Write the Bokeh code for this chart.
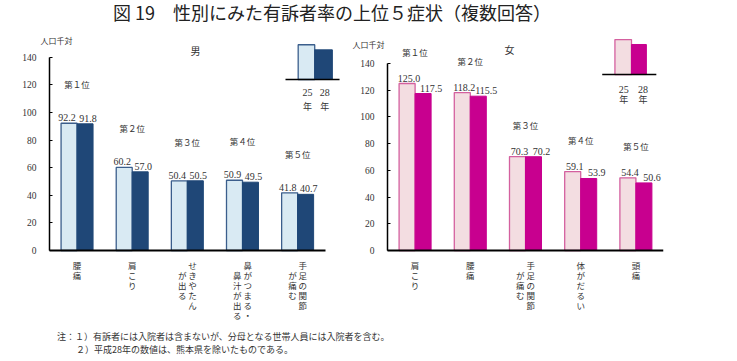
from bokeh.plotting import figure
from bokeh.models import Range1d, FixedTicker, Div, ColumnDataSource
from bokeh.layouts import column, row
from bokeh.embed import file_html
from bokeh.resources import INLINE
from bokeh.core.properties import value

# ---------------- data ----------------
years = ["25", "28"]
year_unit = "年"
ranks = ["第１位", "第２位", "第３位", "第４位", "第５位"]

male_symptoms = [["腰痛"], ["肩こり"], ["せきやたん", "が出る"],
                 ["鼻がつまる・", "鼻汁が出る"], ["手足の関節", "が痛む"]]
male_h25 = [92.2, 60.2, 50.4, 50.9, 41.8]
male_h28 = [91.8, 57.0, 50.5, 49.5, 40.7]

female_symptoms = [["肩こり"], ["腰痛"], ["手足の関節", "が痛む"],
                   ["体がだるい"], ["頭痛"]]
female_h25 = [125.0, 118.2, 70.3, 59.1, 54.4]
female_h28 = [117.5, 115.5, 70.2, 53.9, 50.6]

y_ticks = [0, 20, 40, 60, 80, 100, 120, 140]

TITLE = "図 19　性別にみた有訴者率の上位５症状（複数回答）"
NOTE1 = "注：１）有訴者には入院者は含まないが、分母となる世帯人員には入院者を含む。"
NOTE2 = "２）平成28年の数値は、熊本県を除いたものである。"

JP = "Noto Sans CJK JP"
NUM = "Liberation Serif"
TXT = "#333333"


def vlabel(cols):
    """Vertical (tategaki) label: columns right-to-left, 2nd column one row lower."""
    c1 = cols[0]
    if len(cols) == 1:
        return "\n".join(c1)
    c2 = cols[1]
    n = max(len(c1), len(c2) + 1)
    rows = []
    for i in range(n):
        a = c1[i] if i < len(c1) else "　"
        b = c2[i - 1] if 1 <= i <= len(c2) else "　"
        rows.append(b + " " + a)
    return "\n".join(rows)


def panel(symptoms, v25, v28, x_start, x_end, pxu, pyu, sex, sex_xy,
          light, light_line, dark, bw, lab_off, rank_off, unit_xy, legend,
          min_left, min_right):
    y_start = -72 / pyu
    y_end = 215 / pyu
    p = figure(frame_width=int(round((x_end - x_start) * pxu)), frame_height=287,
               x_range=Range1d(x_start, x_end), y_range=Range1d(y_start, y_end),
               output_backend="svg", toolbar_location=None,
               min_border_left=min_left, min_border_right=min_right,
               min_border_top=5, min_border_bottom=0,
               background_fill_color="white", border_fill_color="white")
    p.outline_line_color = None
    p.xgrid.visible = False
    p.ygrid.visible = False

    n = len(v25)
    centers = [i + 0.5 for i in range(n)]
    src = ColumnDataSource(dict(
        xl=[c - bw / 2 for c in centers], xd=[c + bw / 2 for c in centers],
        xc=centers, v25=v25, v28=v28,
        t25=[f"{v:.1f}" for v in v25], t28=[f"{v:.1f}" for v in v28],
        vmax=[max(a, b) for a, b in zip(v25, v28)], rank=ranks[:n]))

    p.vbar(x="xl", top="v25", width=bw, bottom=0, source=src,
           fill_color=light, line_color=light_line, line_width=1.3)
    p.vbar(x="xd", top="v28", width=bw, bottom=0, source=src,
           fill_color=dark, line_color=dark, line_width=1)

    p.text(x="xl", y="v25", text="t25", source=src, x_offset=lab_off[0], y_offset=-2,
           text_font=value(NUM), text_font_size="10px", text_color=TXT,
           text_align="center", text_baseline="bottom")
    p.text(x="xd", y="v28", text="t28", source=src, x_offset=lab_off[1], y_offset=-2,
           text_font=value(NUM), text_font_size="10px", text_color=TXT,
           text_align="center", text_baseline="bottom")
    p.text(x="xc", y="vmax", text="rank", source=src, y_offset=-rank_off,
           text_font=value(JP), text_font_size="8.5px", text_color=TXT,
           text_align="center", text_baseline="middle")

    # sex label
    p.text(x=[sex_xy[0]], y=[sex_xy[1]], text=[sex], text_font=value(JP),
           text_font_size="10px", text_color=TXT, text_align="center",
           text_baseline="middle")

    # unit label
    p.text(x=[unit_xy[0]], y=[unit_xy[1]], text=["人口千対"], text_font=value(JP),
           text_font_size="8px", text_color=TXT, text_align="left",
           text_baseline="middle")

    # legend inset (mini bar key)
    (lx0, lx1, lx2, ly_base, ly25, ly28, bx0, bx1, tx25, tx28, ty_num, ty_nen) = legend
    p.quad(left=[lx0], right=[lx1], bottom=[ly_base], top=[ly25],
           fill_color=light, line_color=light_line, line_width=1.3)
    p.quad(left=[lx1], right=[lx2], bottom=[ly_base], top=[ly28],
           fill_color=dark, line_color=dark, line_width=1)
    p.segment(x0=[bx0], y0=[ly_base], x1=[bx1], y1=[ly_base],
              line_color="black", line_width=1.5)
    p.text(x=[tx25, tx28], y=[ty_num, ty_num], text=years, text_font=value(NUM),
           text_font_size="10px", text_color=TXT, text_align="center",
           text_baseline="middle")
    p.text(x=[tx25, tx28], y=[ty_nen, ty_nen], text=[year_unit, year_unit],
           text_font=value(JP), text_font_size="9px", text_color=TXT,
           text_align="center", text_baseline="middle")

    # axes
    xa = p.xaxis[0]
    xa.fixed_location = 0
    xa.bounds = (0, n)
    xa.ticker = FixedTicker(ticks=centers)
    xa.major_label_overrides = {c: vlabel(s) for c, s in zip(centers, symptoms)}
    xa.major_label_text_font = JP
    xa.major_label_text_font_size = "8.5px"
    xa.major_label_text_color = TXT
    xa.major_label_text_line_height = 0.84
    xa.major_label_standoff = 2
    xa.major_tick_line_color = None
    xa.minor_tick_line_color = None
    xa.axis_line_color = "black"
    xa.axis_line_width = 1.8

    ya = p.yaxis[0]
    ya.fixed_location = 0
    ya.bounds = (0, 140)
    ya.ticker = FixedTicker(ticks=y_ticks)
    ya.major_label_text_font = NUM
    ya.major_label_text_font_size = "9.5px"
    ya.major_label_text_color = TXT
    ya.major_label_standoff = 13
    ya.major_tick_in = 3
    ya.major_tick_out = 0
    ya.major_tick_line_color = "black"
    ya.minor_tick_line_color = None
    ya.axis_line_color = "black"
    ya.axis_line_width = 1.5
    return p


PXU1, PXU2 = 55.14, 55.2
p1 = panel(male_symptoms, male_h25, male_h28, -41 / PXU1, 5.35, PXU1, 1.38,
           "男", (2.65, 144.9),
           "#d9eaf3", "#3b5e8c", "#1f4777", 0.29, (-2, 3), 39, (-9 / PXU1, 152.2),
           (4.51, 4.81, 5.13, 123.9, 149.1, 145.4, 4.28, 5.26, 4.68, 4.99, 114.3, 104.6),
           8, 3)
p2 = panel(female_symptoms, female_h25, female_h28, -37 / PXU2, 5.0, PXU2, 1.336,
           "女", (2.21, 150.1),
           "#f3dde1", "#d4609f", "#c8008f", 0.29, (2, 8), 32, (-35 / PXU2, 154.2),
           (4.12, 4.42, 4.69, 131.7, 157.9, 154.2, 3.89, 4.87, 4.28, 4.63, 120.3, 112.8),
           3, 60)

title = Div(text=f'<div style="font-family:\'{JP}\';font-size:18px;line-height:24px;'
                 f'color:#222;padding-left:113px;white-space:nowrap;">{TITLE}</div>',
            width=721, height=30, margin=0)
note = Div(text=f'<div style="font-family:\'{JP}\';font-size:9px;line-height:13px;'
                f'color:#333;padding-top:8px;padding-left:57px;white-space:nowrap;">'
                f'{NOTE1}<br><span style="padding-left:19px;">{NOTE2}</span></div>',
           width=721, height=36, margin=0)

layout = column(title, row(p1, p2), note)
open("out.html", "w").write(file_html(layout, INLINE))
